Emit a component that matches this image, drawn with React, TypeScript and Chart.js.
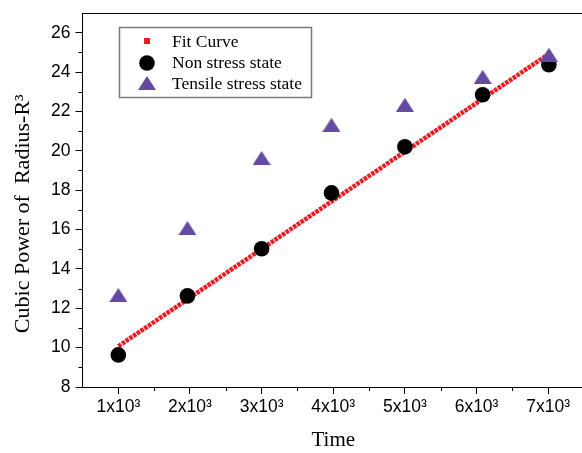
import React, { useEffect, useRef } from 'react';
import { Chart, registerables } from 'chart.js';

Chart.register(...registerables);

// ---- data ----
const timeValues = [1000, 1965, 3000, 3975, 5000, 6085, 7010];
const nonStressValues = [9.63, 12.63, 15.02, 17.86, 20.2, 22.85, 24.37];
const tensileValues = [12.68, 16.08, 19.64, 21.32, 22.34, 23.76, 24.88];
const fitTimes = [1000, 7000];
const fitValues = [10.07, 24.9];
const seriesLabels = ['Fit Curve', 'Non stress state', 'Tensile stress state'];

const xMajorTicks = [1000, 2000, 3000, 4000, 5000, 6000, 7000];
const xMinorTicks = [1500, 2500, 3500, 4500, 5500, 6500, 7500];
const yMajorTicks = [8, 10, 12, 14, 16, 18, 20, 22, 24, 26];
const yMinorTicks = [9, 11, 13, 15, 17, 19, 21, 23, 25];

const xTitle = 'Time';
const yTitle = 'Cubic Power of  Radius-R\u00B3     ';

const RED = '#ec1c24';
const PURPLE = '#654b9f';
const SANS = "'Liberation Sans', Arial, sans-serif";
const SERIF = "'Liberation Serif', 'Times New Roman', serif";

function makeTriangle(w: number, h: number, color: string) {
  const c = document.createElement('canvas');
  c.width = w;
  c.height = h;
  const g = c.getContext('2d')!;
  g.fillStyle = color;
  g.beginPath();
  g.moveTo(w / 2, 0);
  g.lineTo(w, h);
  g.lineTo(0, h);
  g.closePath();
  g.fill();
  return c;
}

export default function App() {
  const ref = useRef<HTMLCanvasElement | null>(null);

  useEffect(() => {
    const canvas = ref.current;
    if (!canvas) return;
    const tri = makeTriangle(18, 14, PURPLE);

    const decor = {
      id: 'decor',
      afterDraw(chart: any) {
        const { ctx, chartArea, scales } = chart;
        const xs = scales.x;
        const ys = scales.y;
        ctx.save();
        ctx.strokeStyle = '#000';
        ctx.lineWidth = 1;
        ctx.beginPath();
        const topY = Math.round(chartArea.top) + 0.5;
        ctx.moveTo(chartArea.left, topY);
        ctx.lineTo(chartArea.right, topY);
        xMinorTicks.forEach((v) => {
          const px = Math.round(xs.getPixelForValue(v)) + 0.5;
          ctx.moveTo(px, chartArea.bottom);
          ctx.lineTo(px, chartArea.bottom + 4);
        });
        yMinorTicks.forEach((v) => {
          const py = Math.round(ys.getPixelForValue(v)) + 0.5;
          ctx.moveTo(chartArea.left - 4, py);
          ctx.lineTo(chartArea.left, py);
        });
        ctx.stroke();

        // legend box
        ctx.strokeStyle = '#7a7a7a';
        ctx.lineWidth = 1.5;
        ctx.strokeRect(119.5, 27.5, 192, 70);
        const mx = 147;
        const rows = [41, 63, 83];
        const baselines = [46.6, 67.6, 88.8];
        ctx.fillStyle = RED;
        ctx.fillRect(mx - 3, rows[0] - 3, 6, 6);
        ctx.fillStyle = '#000';
        ctx.beginPath();
        ctx.arc(mx, rows[1], 7.8, 0, Math.PI * 2);
        ctx.fill();
        ctx.drawImage(tri, mx - tri.width / 2, rows[2] - tri.height / 2);
        ctx.fillStyle = '#000';
        ctx.font = `17.5px ${SERIF}`;
        ctx.textBaseline = 'alphabetic';
        ctx.textAlign = 'left';
        chart.data.datasets.forEach((ds: any, i: number) => {
          ctx.fillText(ds.label, 172, baselines[i]);
        });
        ctx.restore();
      },
    };

    const chart = new Chart(canvas, {
      type: 'scatter',
      data: {
        datasets: [
          {
            label: seriesLabels[0],
            data: fitTimes.map((x, i) => ({ x, y: fitValues[i] })),
            showLine: true,
            borderColor: RED,
            backgroundColor: RED,
            borderWidth: 4.5,
            borderDash: [3.5, 1],
            pointRadius: 0,
            order: 3,
          },
          {
            label: seriesLabels[1],
            data: timeValues.map((x, i) => ({ x, y: nonStressValues[i] })),
            pointStyle: 'circle',
            pointRadius: 7.8,
            backgroundColor: '#000',
            borderColor: '#000',
            borderWidth: 0,
            order: 2,
          },
          {
            label: seriesLabels[2],
            data: timeValues.map((x, i) => ({ x, y: tensileValues[i] })),
            pointStyle: tri as any,
            pointRadius: 9,
            backgroundColor: PURPLE,
            borderColor: PURPLE,
            borderWidth: 0,
            order: 1,
          },
        ],
      },
      options: {
        responsive: false,
        animation: false,
        devicePixelRatio: 1,
        layout: { autoPadding: false, padding: { left: 0, top: 13, right: 2, bottom: 0 } },
        plugins: {
          legend: { display: false },
          tooltip: { enabled: false },
        },
        scales: {
          x: {
            type: 'linear',
            min: 500,
            max: 7500,
            afterBuildTicks: (s: any) => {
              s.ticks = xMajorTicks.map((v) => ({ value: v }));
            },
            afterFit: (s: any) => {
              s.height = 66;
              s.paddingLeft = 0;
              s.paddingRight = 0;
            },
            ticks: {
              color: '#000',
              font: { family: SANS, size: 17.5 },
              padding: 3,
              maxRotation: 0,
              autoSkip: false,
              callback: (v: any) => `${Number(v) / 1000}x10\u00B3`,
            },
            grid: {
              display: true,
              drawOnChartArea: false,
              drawTicks: true,
              tickLength: 7,
              tickColor: '#000',
              tickWidth: 1,
            },
            border: { display: true, color: '#000', width: 1 },
            title: {
              display: true,
              text: xTitle,
              color: '#000',
              font: { family: SERIF, size: 21 },
              padding: { top: 0, bottom: 0 },
            },
          },
          y: {
            type: 'linear',
            min: 8,
            max: 27,
            afterBuildTicks: (s: any) => {
              s.ticks = yMajorTicks.map((v) => ({ value: v }));
            },
            afterFit: (s: any) => {
              s.width = 82.5;
              s.paddingTop = 0;
              s.paddingBottom = 0;
            },
            ticks: {
              color: '#000',
              font: { family: SANS, size: 17.5 },
              padding: 5,
              autoSkip: false,
              callback: (v: any) => String(v),
            },
            grid: {
              display: true,
              drawOnChartArea: false,
              drawTicks: true,
              tickLength: 7,
              tickColor: '#000',
              tickWidth: 1,
            },
            border: { display: true, color: '#000', width: 1 },
            title: {
              display: true,
              text: yTitle,
              color: '#000',
              font: { family: SERIF, size: 22 },
              padding: { top: 10, bottom: 0 },
            },
          },
        },
      },
      plugins: [decor],
    } as any);

    return () => chart.destroy();
  }, []);

  return (
    <div
      style={{
        position: 'absolute',
        left: 0,
        top: 0,
        width: 582,
        height: 453,
        overflow: 'hidden',
        background: '#fff',
      }}
    >
      <canvas ref={ref} width={586} height={453} style={{ display: 'block', width: 586, height: 453 }} />
    </div>
  );
}
